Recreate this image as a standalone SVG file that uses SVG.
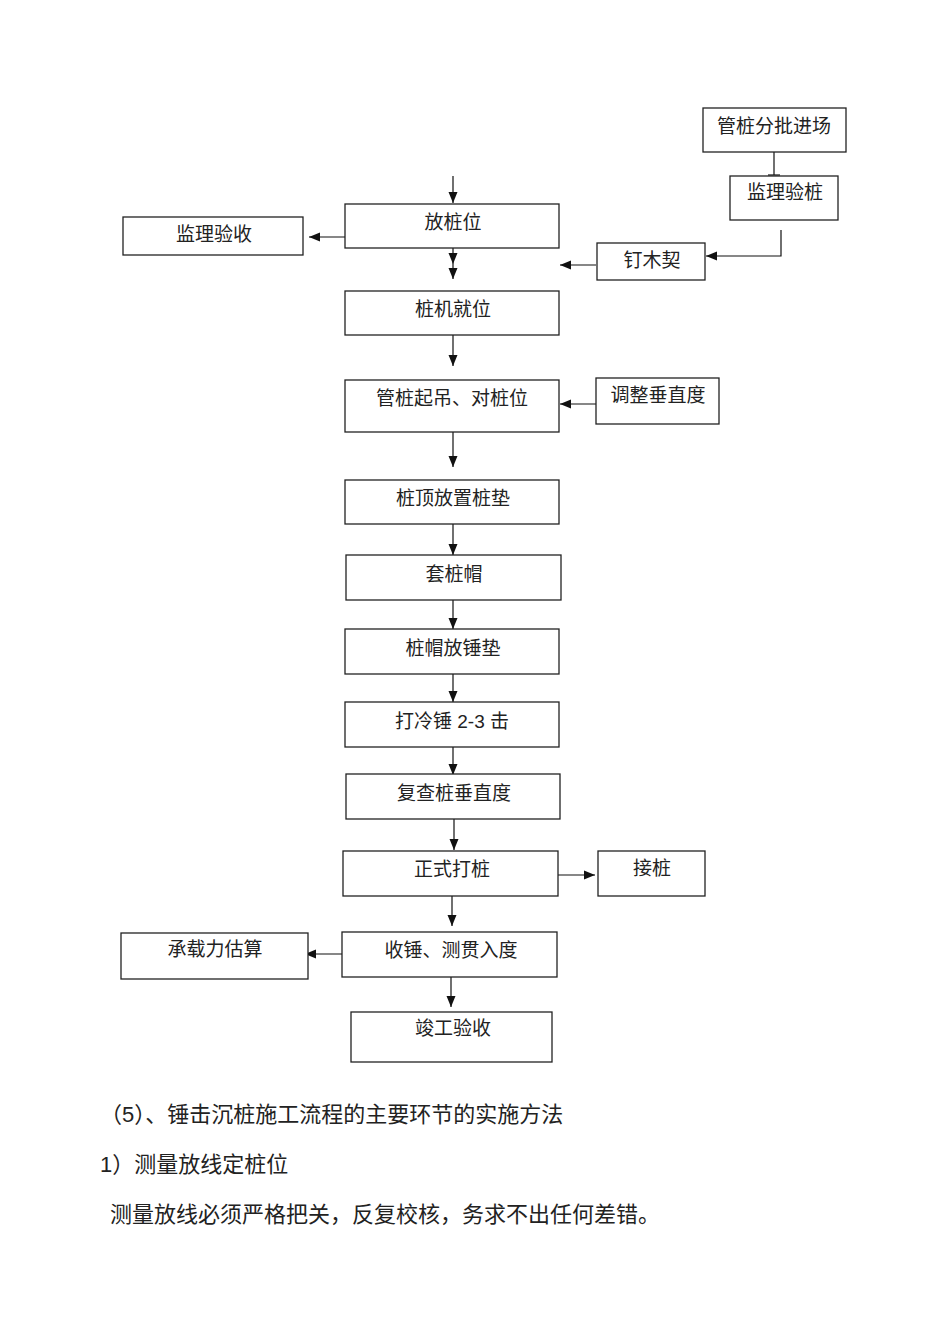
<svg xmlns="http://www.w3.org/2000/svg" width="950" height="1344" viewBox="0 0 950 1344">
<style>
.box{fill:#fff;stroke:#222;stroke-width:1.3}
.t{font-family:"Liberation Sans","Noto Sans CJK SC",sans-serif;font-size:19px;fill:#222;text-anchor:middle}
.p{font-family:"Liberation Sans","Noto Sans CJK SC",sans-serif;font-size:22px;fill:#222}
.c{fill:none;stroke:#111;stroke-width:1.2}
</style>
<defs>
<marker id="a" markerUnits="userSpaceOnUse" markerWidth="12" markerHeight="12" viewBox="0 0 12 12" refX="11" refY="6" orient="auto"><path d="M0,1.5 L11,6 L0,10.5 Z" fill="#111"/></marker>
<marker id="tick" markerUnits="userSpaceOnUse" markerWidth="4" markerHeight="12" viewBox="0 0 4 12" refX="2" refY="6" orient="auto"><path d="M2,0 V12" stroke="#111" stroke-width="1.2"/></marker>
</defs>
<g id="connectors">
<path class="c" d="M774,152 V175" marker-end="url(#tick)"/>
<path class="c" d="M781,230 V256 H706" marker-end="url(#a)"/>
<path class="c" d="M596,265 H560" marker-end="url(#a)"/>
<path class="c" d="M453,176 V203" marker-end="url(#a)"/>
<path class="c" d="M345,237 H309" marker-end="url(#a)"/>
<path class="c" d="M453,248 V264" marker-end="url(#a)"/>
<path class="c" d="M453,264 V279" marker-end="url(#a)"/>
<path class="c" d="M453,335 V366" marker-end="url(#a)"/>
<path class="c" d="M596,404 H560" marker-end="url(#a)"/>
<path class="c" d="M453,432 V467" marker-end="url(#a)"/>
<path class="c" d="M453,524 V555" marker-end="url(#a)"/>
<path class="c" d="M453,600 V629" marker-end="url(#a)"/>
<path class="c" d="M453,674 V702" marker-end="url(#a)"/>
<path class="c" d="M453,747 V775" marker-end="url(#a)"/>
<path class="c" d="M454,819 V850" marker-end="url(#a)"/>
<path class="c" d="M557,875 H595" marker-end="url(#a)"/>
<path class="c" d="M452,896 V926" marker-end="url(#a)"/>
<path class="c" d="M342,954 H305" marker-end="url(#a)"/>
<path class="c" d="M451,977 V1007" marker-end="url(#a)"/>
</g>
<g id="n_guanzhuangjinchang"><rect class="box" x="703" y="108" width="143" height="44"/><text class="t" x="774" y="133">管桩分批进场</text></g>
<g id="n_jianliyanzhuang"><rect class="box" x="730" y="176" width="108" height="44"/><text class="t" x="785" y="199">监理验桩</text></g>
<g id="n_dingmuqi"><rect class="box" x="597" y="243" width="108" height="37"/><text class="t" x="652" y="267">钉木契</text></g>
<g id="n_fangzhuangwei"><rect class="box" x="345" y="204" width="214" height="44"/><text class="t" x="453" y="229">放桩位</text></g>
<g id="n_jianliyanshou"><rect class="box" x="123" y="217" width="180" height="38"/><text class="t" x="214" y="241">监理验收</text></g>
<g id="n_zhuangjijiuwei"><rect class="box" x="345" y="291" width="214" height="44"/><text class="t" x="453" y="316">桩机就位</text></g>
<g id="n_qidiao"><rect class="box" x="345" y="380" width="214" height="52"/><text class="t" x="452" y="405">管桩起吊、对桩位</text></g>
<g id="n_tiaozheng"><rect class="box" x="596" y="378" width="123" height="46"/><text class="t" x="658" y="402">调整垂直度</text></g>
<g id="n_zhuangdian"><rect class="box" x="345" y="480" width="214" height="44"/><text class="t" x="453" y="505">桩顶放置桩垫</text></g>
<g id="n_zhuangmao"><rect class="box" x="346" y="555" width="215" height="45"/><text class="t" x="454" y="581">套桩帽</text></g>
<g id="n_chuidian"><rect class="box" x="345" y="629" width="214" height="45"/><text class="t" x="453" y="655">桩帽放锤垫</text></g>
<g id="n_lengchui"><rect class="box" x="345" y="702" width="214" height="45"/><text class="t" x="452" y="728">打冷锤 2-3 击</text></g>
<g id="n_fucha"><rect class="box" x="346" y="774" width="214" height="45"/><text class="t" x="454" y="800">复查桩垂直度</text></g>
<g id="n_zhengshi"><rect class="box" x="343" y="851" width="215" height="45"/><text class="t" x="452" y="876">正式打桩</text></g>
<g id="n_jiezhuang"><rect class="box" x="598" y="851" width="107" height="45"/><text class="t" x="652" y="875">接桩</text></g>
<g id="n_shouchui"><rect class="box" x="342" y="932" width="215" height="45"/><text class="t" x="451" y="957">收锤、测贯入度</text></g>
<g id="n_chengzai"><rect class="box" x="121" y="933" width="187" height="46"/><text class="t" x="215" y="956">承载力估算</text></g>
<g id="n_jungong"><rect class="box" x="351" y="1012" width="201" height="50"/><text class="t" x="453" y="1035">竣工验收</text></g>
<g id="body">
<text class="p" x="100" y="1122">（5）、锤击沉桩施工流程的主要环节的实施方法</text>
<text class="p" x="100" y="1172">1）测量放线定桩位</text>
<text class="p" x="110" y="1222">测量放线必须严格把关，反复校核，务求不出任何差错。</text>
</g>
</svg>
